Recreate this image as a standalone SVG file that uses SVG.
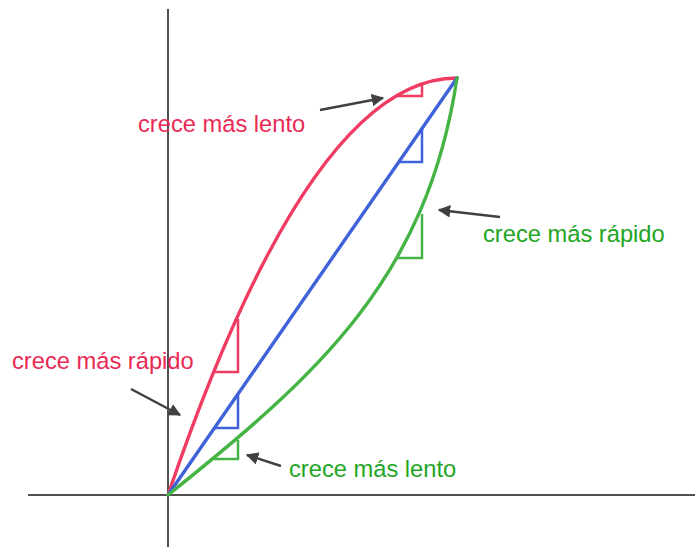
<svg xmlns="http://www.w3.org/2000/svg" width="695" height="547" viewBox="0 0 695 547">
<defs>
<marker id="ah" viewBox="0 0 10 10" refX="9" refY="5" markerWidth="5" markerHeight="5" orient="auto" markerUnits="strokeWidth">
<path d="M0,0 L10,5 L0,10 Z" fill="#404040"/>
</marker>
</defs>
<style>
.axis{stroke:#505050;stroke-width:2;fill:none}
.curve{fill:none;stroke-width:3.4;stroke-linecap:round}
.tri{fill:none;stroke-width:2.5}
.red{stroke:#f03c62}
.blue{stroke:#3f62d8}
.green{stroke:#45b445}
.arrow{stroke:#404040;stroke-width:2.5;fill:none;marker-end:url(#ah)}
.lbl{font-family:"Liberation Sans",Arial,sans-serif;font-size:23.7px}
.tr{fill:#ea2a55}
.tg{fill:#22a524}
</style>
<rect width="695" height="547" fill="#fff"/>
<g id="axes">
<line class="axis" x1="168" y1="9" x2="168" y2="547"/>
<line class="axis" x1="28" y1="495" x2="695" y2="495"/>
</g>
<g id="curves">
<path id="red-curve" class="curve red" d="M168,495 Q310,78 457,78"/>
<path id="blue-line" class="curve blue" d="M168,495 L457,78"/>
<path id="green-curve" class="curve green" d="M168,495 C318,375 427,278 457,78"/>
</g>
<g id="triangles">
<polyline class="tri red" points="213,372 238,372 238,319"/>
<polyline class="tri red" points="397,96 422,96 422,84"/>
<polyline class="tri blue" points="214,428 238,428 238,395"/>
<polyline class="tri blue" points="398,162 422,162 422,128"/>
<polyline class="tri green" points="214,459 238,459 238,440"/>
<polyline class="tri green" points="398,258 422,258 422,214"/>
</g>
<g id="connectors">
<line class="arrow" x1="320" y1="110" x2="383" y2="98"/>
<line class="arrow" x1="500" y1="217" x2="439" y2="210"/>
<line class="arrow" x1="131" y1="389" x2="180" y2="415"/>
<line class="arrow" x1="281" y1="466" x2="247" y2="455"/>
</g>
<g id="labels">
<text class="lbl tr" x="138" y="132">crece más lento</text>
<text class="lbl tr" x="12" y="369">crece más rápido</text>
<text class="lbl tg" x="483" y="242">crece más rápido</text>
<text class="lbl tg" x="289" y="477">crece más lento</text>
</g>
</svg>
